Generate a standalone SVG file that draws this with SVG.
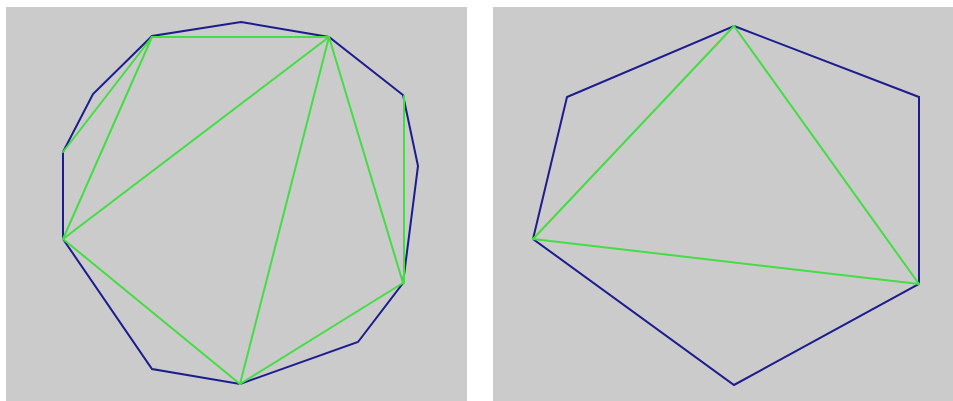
<svg xmlns="http://www.w3.org/2000/svg" width="953" height="401" viewBox="0 0 953 401">
<style>
.bg{fill:#cbcbcb}
.poly{fill:none;stroke:#1c1c8e;stroke-width:2;stroke-linejoin:miter}
.diag{fill:none;stroke:#44dd44;stroke-width:2;stroke-linecap:round}
</style>
<rect x="0" y="0" width="953" height="401" fill="#ffffff"/>
<g id="left-panel">
<rect class="bg" x="6" y="7" width="461" height="394"/>
<polygon class="poly" points="241,22 329,37 403,95 418,166 403,283 358,342 240,384 152,369 63,239 63,152 93,94 152,36"/>
<g id="left-diagonals">
<line class="diag" x1="152" y1="37" x2="329" y2="37"/>
<line class="diag" x1="152" y1="37" x2="63" y2="152"/>
<line class="diag" x1="152" y1="37" x2="63" y2="239"/>
<line class="diag" x1="329" y1="37" x2="63" y2="239"/>
<line class="diag" x1="329" y1="37" x2="240" y2="384"/>
<line class="diag" x1="329" y1="37" x2="403" y2="283"/>
<line class="diag" x1="404" y1="96" x2="404" y2="283"/>
<line class="diag" x1="403" y1="283" x2="240" y2="384"/>
<line class="diag" x1="63" y1="239" x2="240" y2="384"/>
</g>
</g>
<g id="right-panel">
<rect class="bg" x="493" y="7" width="460" height="394"/>
<polygon class="poly" points="734,26 919,97 919,284 734,385 533,239 567,97"/>
<g id="right-diagonals">
<line class="diag" x1="734" y1="26" x2="533" y2="239"/>
<line class="diag" x1="734" y1="26" x2="919" y2="284"/>
<line class="diag" x1="533" y1="239" x2="919" y2="284"/>
</g>
</g>
</svg>
